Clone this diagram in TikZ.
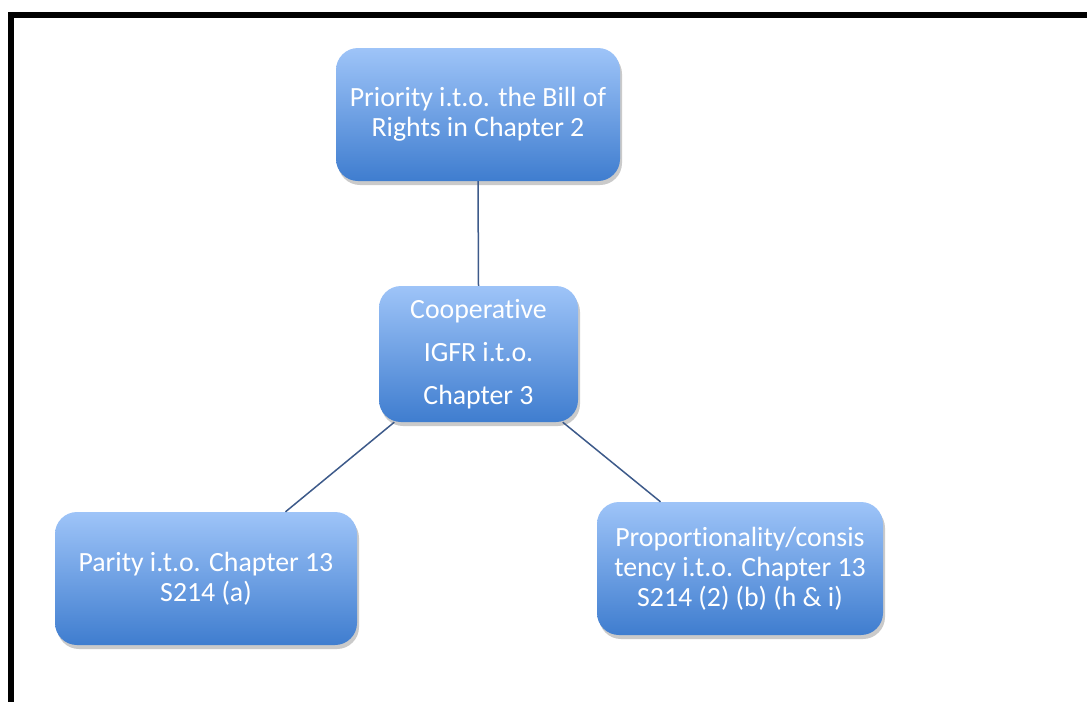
\documentclass[tikz,border=0pt]{standalone}
\usepackage{fontspec}
\setmainfont{Carlito}[Ligatures=NoCommon]
\usetikzlibrary{shadows,calc}
\definecolor{boxtop}{HTML}{9EC4F8}
\definecolor{boxbot}{HTML}{3F7DCF}
\definecolor{linkc}{HTML}{3D5A8A}
\tikzset{
  pbox/.style={rectangle, rounded corners=22pt, top color=boxtop, bottom color=boxbot,
    draw=none, text=white, align=center, inner sep=0pt,
    font=\fontsize{27.8}{30}\selectfont,
    drop shadow={shadow xshift=2pt, shadow yshift=-4pt, opacity=0.35, fill=black!60}},
  link/.style={draw=linkc, line width=1.5pt}
}
\begin{document}
\begin{tikzpicture}[x=1pt,y=-1pt]
\useasboundingbox (0,0) rectangle (1087,702);
\fill[black] (8,12) rectangle (14,702);
\fill[black] (8,12) rectangle (1087,18);
\node[pbox, minimum width=284pt, minimum height=133pt] (top) at (478,114.5)
  {Priority i.t.o. the Bill of\\Rights in Chapter 2};
\node[pbox, minimum width=199pt, minimum height=136pt, font=\fontsize{27.8}{43}\selectfont] (mid) at (478.5,354)
  {Cooperative\\IGFR i.t.o.\\Chapter 3};
\node[pbox, minimum width=302pt, minimum height=133pt] (left) at (206,578.5)
  {Parity i.t.o. Chapter 13\\S214 (a)};
\node[pbox, minimum width=286pt, minimum height=133pt] (right) at (740,568.5)
  {Proportionality/consis\\tency i.t.o. Chapter 13\\S214 (2) (b) (h \& i)};
\draw[link] (top.south) -- (mid.north);
\draw[link] (mid.219) -- (left.40);
\draw[link] (mid.321) -- (right.140);
\end{tikzpicture}
\end{document}
